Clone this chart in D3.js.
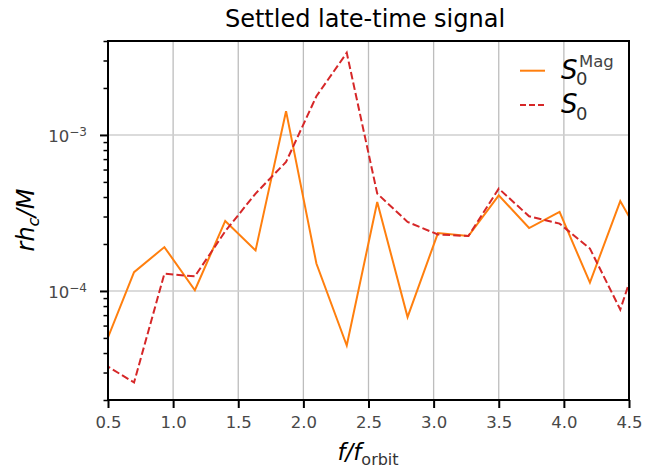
<!DOCTYPE html>
<html>
<head>
<meta charset="utf-8">
<script src="https://cdn.jsdelivr.net/npm/d3@7"></script>
<style>
  html, body { margin: 0; padding: 0; background: #fff; }
  svg { display: block; font-family: "DejaVu Sans", sans-serif; }
</style>
</head>
<body>
<svg id="chart" width="655" height="473"></svg>
<script>
// Frequencies (in units of the orbital frequency) of the spectral bins
const freqs = [0.467, 0.700, 0.933, 1.167, 1.400, 1.633, 1.867, 2.100, 2.333, 2.567,
               2.800, 3.033, 3.267, 3.500, 3.733, 3.967, 4.200, 4.433, 4.667];
// Magnetic-sourced strain amplitude S_0^Mag
const s0Mag = [4.3e-5, 1.32e-4, 1.91e-4, 1.01e-4, 2.81e-4, 1.82e-4, 1.42e-3, 1.50e-4, 4.47e-5, 3.72e-4,
               6.8e-5, 2.35e-4, 2.25e-4, 4.1e-4, 2.53e-4, 3.21e-4, 1.13e-4, 3.77e-4, 1.7e-4];
// Total strain amplitude S_0
const s0 = [3.4e-5, 2.59e-5, 1.29e-4, 1.24e-4, 2.41e-4, 4.21e-4, 6.71e-4, 1.77e-3, 3.36e-3, 4.21e-4,
            2.77e-4, 2.30e-4, 2.25e-4, 4.53e-4, 3.01e-4, 2.70e-4, 1.87e-4, 7.6e-5, 2.95e-4];
// Axis ticks
const xTicks = [0.5, 1.0, 1.5, 2.0, 2.5, 3.0, 3.5, 4.0, 4.5];
const yMajor = [1e-4, 1e-3];
const yMajorExp = ["\u22124", "\u22123"];
const yMinor = [2e-5, 3e-5, 4e-5, 5e-5, 6e-5, 7e-5, 8e-5, 9e-5,
                2e-4, 3e-4, 4e-4, 5e-4, 6e-4, 7e-4, 8e-4, 9e-4,
                2e-3, 3e-3, 4e-3];
const title = "Settled late-time signal";

const colMag = "#ff7f0e", colS0 = "#d62728";

const svg = d3.select("#chart");
const L = 108, R = 629, T = 41, B = 400;

const x = d3.scaleLinear().domain([0.5, 4.5]).range([L, R]);
const y = d3.scaleLog().domain([2e-5, 4e-3]).range([B, T]);

svg.append("defs").append("clipPath").attr("id", "plotclip")
  .append("rect").attr("x", L).attr("y", T).attr("width", R - L).attr("height", B - T);

// grid
const grid = svg.append("g");
grid.selectAll("line.vx").data(xTicks).join("line")
  .attr("x1", d => x(d)).attr("x2", d => x(d)).attr("y1", T).attr("y2", B)
  .attr("stroke", "#bdbdbd").attr("stroke-width", 1.3);
grid.selectAll("line.hy").data(yMajor).join("line")
  .attr("x1", L).attr("x2", R).attr("y1", d => y(d)).attr("y2", d => y(d))
  .attr("stroke", "#cfcfcf").attr("stroke-width", 1.6);

// data lines
const line = (vals) => d3.line().x((d, i) => x(freqs[i])).y(d => y(d))(vals);
const plot = svg.append("g").attr("clip-path", "url(#plotclip)");
plot.append("path").attr("d", line(s0Mag)).attr("fill", "none")
  .attr("stroke", colMag).attr("stroke-width", 2).attr("stroke-linejoin", "miter");
plot.append("path").attr("d", line(s0)).attr("fill", "none")
  .attr("stroke", colS0).attr("stroke-width", 2).attr("stroke-dasharray", "7.5,3.2");

// x axis
const xAxis = d3.axisBottom(x).tickValues(xTicks).tickFormat(d3.format(".1f"))
  .tickSizeInner(8).tickSizeOuter(0).tickPadding(8);
const gx = svg.append("g").attr("transform", `translate(0,${B})`).call(xAxis);
gx.select(".domain").remove();
gx.selectAll(".tick line").attr("stroke", "#000").attr("stroke-width", 2);
gx.selectAll(".tick text").attr("font-size", 16.5).attr("fill", "#484848")
  .attr("font-family", "DejaVu Sans").attr("dy", "0.71em");

// y axis (log): minor ticks, then majors with power-of-ten labels
const yAxisMinor = d3.axisLeft(y).tickValues(yMinor).tickFormat("").tickSizeInner(4.5).tickSizeOuter(0);
const gym = svg.append("g").attr("transform", `translate(${L},0)`).call(yAxisMinor);
gym.select(".domain").remove();
gym.selectAll(".tick line").attr("stroke", "#000").attr("stroke-width", 1.5);

const yAxisMajor = d3.axisLeft(y).tickValues(yMajor).tickFormat("").tickSizeInner(8).tickSizeOuter(0);
const gy = svg.append("g").attr("transform", `translate(${L},0)`).call(yAxisMajor);
gy.select(".domain").remove();
gy.selectAll(".tick line").attr("stroke", "#000").attr("stroke-width", 2);
gy.selectAll(".tick").each(function (d, i) {
  const t = d3.select(this).append("text")
    .attr("x", -21).attr("y", 6.8).attr("text-anchor", "end")
    .attr("fill", "#484848").attr("font-family", "DejaVu Sans").attr("font-size", 16.5);
  t.append("tspan").text("10");
  t.append("tspan").attr("font-size", 12).attr("dy", -6.7).text(yMajorExp[i]);
});

// spines
svg.append("rect").attr("x", L).attr("y", T).attr("width", R - L).attr("height", B - T)
  .attr("fill", "none").attr("stroke", "#000").attr("stroke-width", 2);

// title
svg.append("text").attr("x", 365).attr("y", 27).attr("text-anchor", "middle")
  .attr("font-size", 24).attr("fill", "#000").text(title);

// x label: f / f_orbit
const xl = svg.append("text").attr("x", 368).attr("y", 460).attr("text-anchor", "middle")
  .attr("font-size", 23).attr("fill", "#000");
xl.append("tspan").attr("font-style", "italic").text("f/f");
xl.append("tspan").attr("font-size", 16).attr("dy", 5).attr("fill", "#333").text("orbit");

// y label: r h_c / M
const yl = svg.append("text").attr("transform", "translate(34,220) rotate(-90)")
  .attr("text-anchor", "middle").attr("font-size", 24).attr("fill", "#000");
yl.append("tspan").attr("font-style", "italic").text("rh");
yl.append("tspan").attr("font-style", "italic").attr("font-size", 16.5).attr("dy", 5).text("c");
yl.append("tspan").attr("font-style", "italic").attr("dy", -5).text("/M");

// legend
const lg = svg.append("g");
const entries = [
  { y: 70.7, color: colMag, dash: null, sup: "Mag" },
  { y: 105, color: colS0, dash: "6,3", sup: null }
];
entries.forEach(e => {
  lg.append("line").attr("x1", 520).attr("x2", 545).attr("y1", e.y).attr("y2", e.y)
    .attr("stroke", e.color).attr("stroke-width", 2).attr("stroke-dasharray", e.dash);
  const base = e.y + 8;
  const s = lg.append("text").attr("x", 561).attr("y", base).attr("font-size", 26)
    .attr("font-style", "italic").attr("fill", "#000").text("S");
  const w = s.node().getComputedTextLength();
  lg.append("text").attr("x", 561 + w - 1.5).attr("y", base + 6.5).attr("font-size", 18)
    .attr("fill", "#333").text("0");
  if (e.sup) {
    lg.append("text").attr("x", 561 + w + 1.5).attr("y", base - 12).attr("font-size", 16.5)
      .attr("fill", "#444").text(e.sup);
  }
});
</script>
</body>
</html>
